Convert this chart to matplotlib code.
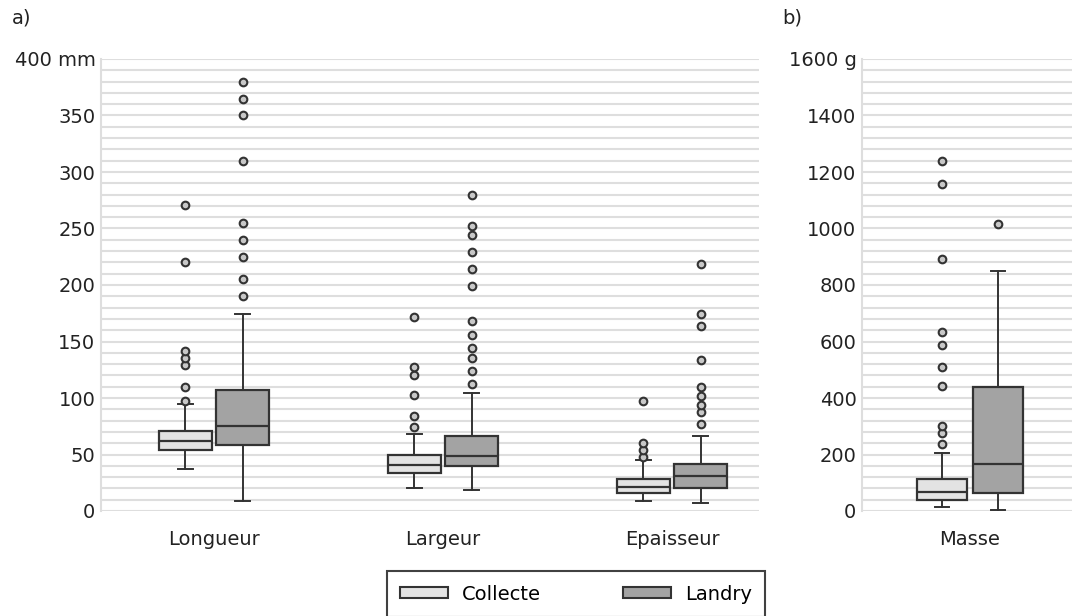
import matplotlib
matplotlib.use('Agg')
import matplotlib.pyplot as plt
from matplotlib.patches import Patch

# --------------------------------------------------------------------------- #
# Data

groups = ['Collecte', 'Landry']
dims = ['Longueur', 'Largeur', 'Epaisseur']

# per dimension: (whislo, q1, med, q3, whishi, fliers)
collecte_dims = [
    (37, 54, 62, 71, 95, [97, 110, 129, 135, 142, 220, 271]),
    (20, 34, 41, 50, 68, [74, 84, 103, 120, 127, 172]),
    (9, 16, 21, 28, 45, [48, 54, 60, 97]),
]
landry_dims = [
    (9, 58, 75, 107, 174, [190, 205, 225, 240, 255, 310, 350, 365, 380]),
    (19, 40, 49, 66, 104, [112, 124, 135, 144, 156, 168, 199, 214, 229,
                           244, 252, 280]),
    (7, 20, 31, 42, 66, [77, 88, 94, 102, 110, 134, 164, 174, 219]),
]

masse_collecte = (15, 40, 67, 113, 205,
                  [237, 275, 302, 442, 509, 587, 635, 891, 1158, 1238])
masse_landry = (3, 63, 166, 438, 851, [1016])

colors = {'Collecte': '#e3e3e3', 'Landry': '#a3a3a3'}
edge = '#333333'
grid_c = '#dedede'
fs = 14


def stats(s):
    lo, q1, med, q3, hi, fl = s
    return dict(whislo=lo, q1=q1, med=med, q3=q3, whishi=hi, fliers=fl)


def draw(ax, data, pos, color):
    ax.bxp(
        [stats(s) for s in data],
        positions=pos,
        widths=0.232,
        capwidths=0.068,
        patch_artist=True,
        boxprops=dict(facecolor=color, edgecolor=edge, linewidth=1.6),
        medianprops=dict(color=edge, linewidth=1.6),
        whiskerprops=dict(color=edge, linewidth=1.4),
        capprops=dict(color=edge, linewidth=1.4),
        flierprops=dict(marker='o', markersize=5.5, markerfacecolor='#c8c8c8',
                        markeredgecolor=edge, markeredgewidth=1.5),
        manage_ticks=False,
        zorder=3,
    )


def style(ax, ymax, step, minor, unit):
    ax.set_ylim(0, ymax)
    ax.set_yticks(range(0, ymax + 1, minor), minor=True)
    ticks = list(range(0, ymax + 1, step))
    ax.set_yticks(ticks)
    ax.set_yticklabels([str(t) if t != ymax else f'{t} {unit}' for t in ticks])
    ax.yaxis.grid(True, which='both', color=grid_c, linewidth=1.5)
    ax.set_axisbelow(True)
    for s in ['top', 'right', 'bottom']:
        ax.spines[s].set_visible(False)
    ax.spines['left'].set_color(grid_c)
    ax.spines['left'].set_linewidth(1.5)
    ax.tick_params(axis='both', which='both', length=0, labelsize=fs,
                   colors='#222222')
    ax.tick_params(axis='y', pad=4)
    ax.tick_params(axis='x', pad=14)


fig = plt.figure(figsize=(10.72, 6.16), dpi=100)

# panel a
ax_a = fig.add_axes([101 / 1072, 1 - 511 / 616, 658 / 1072, 452 / 616])
centers = [1, 2, 3]
draw(ax_a, collecte_dims, [c - 0.125 for c in centers], colors['Collecte'])
draw(ax_a, landry_dims, [c + 0.125 for c in centers], colors['Landry'])
ax_a.set_xlim(1 - 113 / 229, 3 + 87 / 229)
ax_a.set_xticks(centers)
ax_a.set_xticklabels(dims)
style(ax_a, 400, 50, 10, 'mm')

# panel b
ax_b = fig.add_axes([862 / 1072, 1 - 511 / 616, 216 / 1072, 452 / 616])
draw(ax_b, [masse_collecte], [1 - 0.13], colors['Collecte'])
draw(ax_b, [masse_landry], [1 + 0.13], colors['Landry'])
ax_b.set_xlim(0.5, 1.5)
ax_b.set_xticks([1])
ax_b.set_xticklabels(['Masse'])
style(ax_b, 1600, 200, 40, 'g')

fig.text(12 / 1072, 1 - 18 / 616, 'a)', fontsize=fs, va='center',
         color='#222222')
fig.text(782 / 1072, 1 - 18 / 616, 'b)', fontsize=fs, va='center',
         color='#222222')

handles = [Patch(facecolor=colors[g], edgecolor=edge, linewidth=1.5)
           for g in groups]
leg = fig.legend(
    handles, groups,
    loc='upper center',
    bbox_to_anchor=(576 / 1072, 1 - 571 / 616),
    borderaxespad=0,
    ncol=2,
    fontsize=fs,
    frameon=True,
    fancybox=False,
    edgecolor='#111111',
    handlelength=2.47,
    handleheight=0.46,
    handletextpad=0.72,
    columnspacing=4.2,
    borderpad=0.7,
)
leg.get_frame().set_linewidth(1.5)

fig.savefig('out.png', dpi=100)
